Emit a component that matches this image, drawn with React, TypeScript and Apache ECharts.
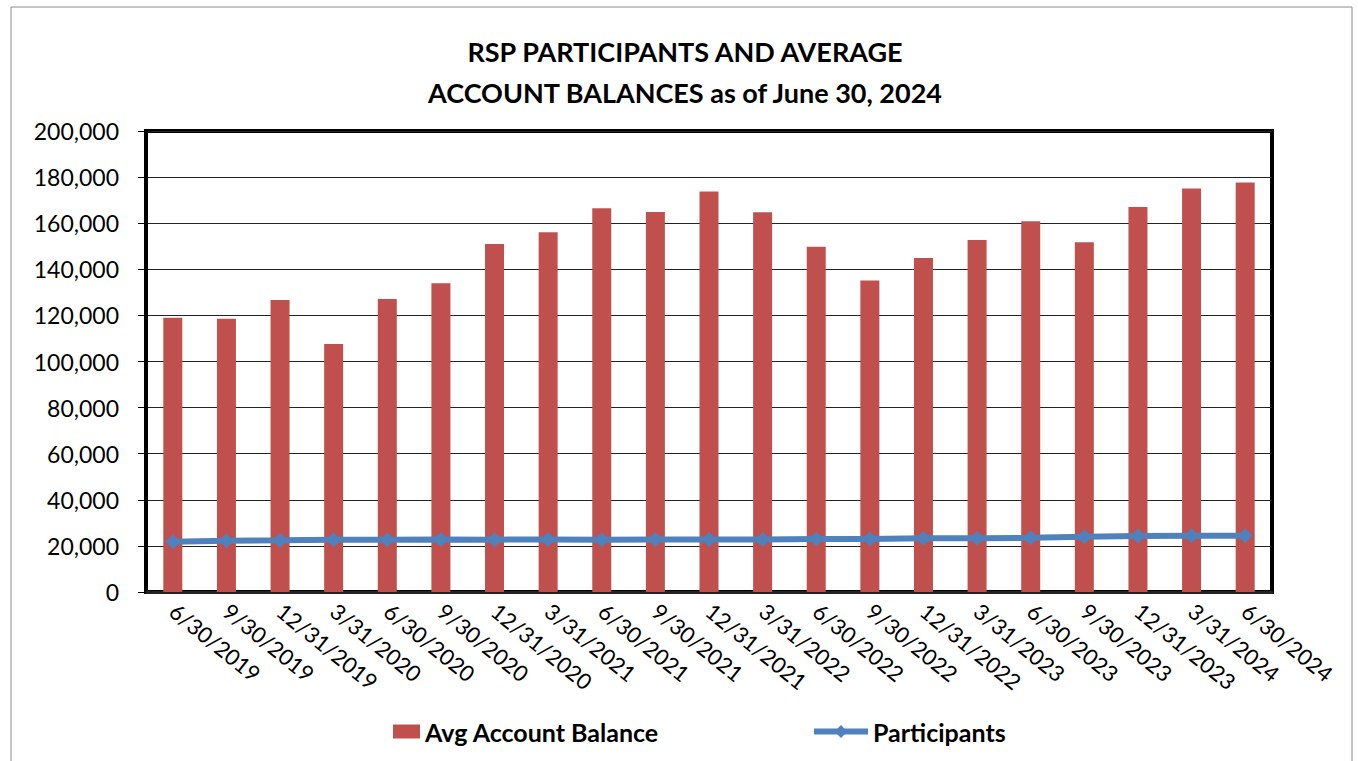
import React, { useEffect, useRef } from "react";
import * as echarts from "echarts";

const categories = [
  "6/30/2019", "9/30/2019", "12/31/2019", "3/31/2020", "6/30/2020", "9/30/2020",
  "12/31/2020", "3/31/2021", "6/30/2021", "9/30/2021", "12/31/2021", "3/31/2022",
  "6/30/2022", "9/30/2022", "12/31/2022", "3/31/2023", "6/30/2023", "9/30/2023",
  "12/31/2023", "3/31/2024", "6/30/2024",
];

const avgAccountBalance = [
  119000, 118500, 126700, 107600, 127100, 133900, 151000, 156100, 166500, 164900,
  173800, 164700, 149800, 135100, 144900, 152700, 160800, 151700, 167000, 175100, 177700,
];

const participants = [
  21800, 22200, 22400, 22700, 22700, 22800, 22700, 22800, 22700, 22800, 22800,
  22800, 23000, 23000, 23300, 23300, 23500, 24000, 24300, 24400, 24400,
];

const titleLines = ["RSP PARTICIPANTS AND AVERAGE", "ACCOUNT BALANCES as of June 30, 2024"];

const FONT = "Lato, 'Liberation Sans', sans-serif";

export default function App() {
  const ref = useRef<HTMLDivElement>(null);
  useEffect(() => {
    if (!ref.current) return;
    const chart = echarts.init(ref.current, null, { renderer: "svg" });
    chart.setOption({
      animation: false,
      backgroundColor: "#fff",
      textStyle: { fontFamily: FONT },
      graphic: [
        {
          type: "rect",
          shape: { x: 11, y: 7, width: 1341, height: 800 },
          style: { fill: "none", stroke: "#8c8c8c", lineWidth: 1 },
          silent: true,
        },
        {
          type: "text",
          x: 685,
          y: 31,
          style: {
            text: titleLines.join("\n"),
            fontSize: 27,
            fontWeight: "bold",
            fontFamily: FONT,
            lineHeight: 41,
            align: "center",
            verticalAlign: "top",
            fill: "#000",
          },
        },
      ],
      grid: {
        left: 146,
        right: 86,
        top: 131,
        bottom: 169,
        show: true,
        borderColor: "#000",
        borderWidth: 4,
        containLabel: false,
      },
      legend: [
        {
          left: 388,
          top: 714,
          itemWidth: 27,
          itemHeight: 14,
          itemGap: 6,
          textStyle: { fontSize: 25, fontWeight: "bold", color: "#000", fontFamily: FONT },
          data: [{ name: "Avg Account Balance", icon: "rect", itemStyle: { color: "#C0504D" } }],
        },
        {
          left: 806,
          top: 714,
          itemWidth: 54,
          itemHeight: 16,
          textStyle: { fontSize: 25, fontWeight: "bold", color: "#000", fontFamily: FONT },
          data: [
            {
              name: "Participants",
              itemStyle: { color: "#4F81BD" },
              lineStyle: { color: "#4F81BD", width: 6 },
            },
          ],
        },
      ],
      xAxis: {
        type: "category",
        data: categories,
        axisLine: { show: true, lineStyle: { color: "#222", width: 3 } },
        axisTick: { show: false },
        axisLabel: {
          rotate: -39,
          fontSize: 22,
          color: "#000",
          margin: 16,
          interval: 0,
          fontFamily: FONT,
        },
      },
      yAxis: {
        type: "value",
        min: 0,
        max: 200000,
        interval: 20000,
        axisLine: { show: true, lineStyle: { color: "#000", width: 4 } },
        axisTick: { show: true, length: 8, lineStyle: { color: "#000", width: 1 } },
        splitLine: { show: true, lineStyle: { color: "#222", width: 1.2 } },
        axisLabel: {
          fontSize: 23,
          color: "#000",
          margin: 27,
          fontFamily: FONT,
          formatter: (v: number) => v.toLocaleString("en-US"),
        },
      },
      series: [
        {
          name: "Avg Account Balance",
          type: "bar",
          data: avgAccountBalance,
          barWidth: 19,
          itemStyle: { color: "#C0504D" },
        },
        {
          name: "Participants",
          type: "line",
          data: participants,
          symbol: "diamond",
          symbolSize: 15,
          lineStyle: { color: "#4F81BD", width: 6 },
          itemStyle: { color: "#4F81BD" },
        },
      ],
    });
    return () => chart.dispose();
  }, []);
  return (
    <div
      ref={ref}
      style={{ position: "fixed", left: 0, top: 0, width: 1358, height: 761 }}
    />
  );
}
